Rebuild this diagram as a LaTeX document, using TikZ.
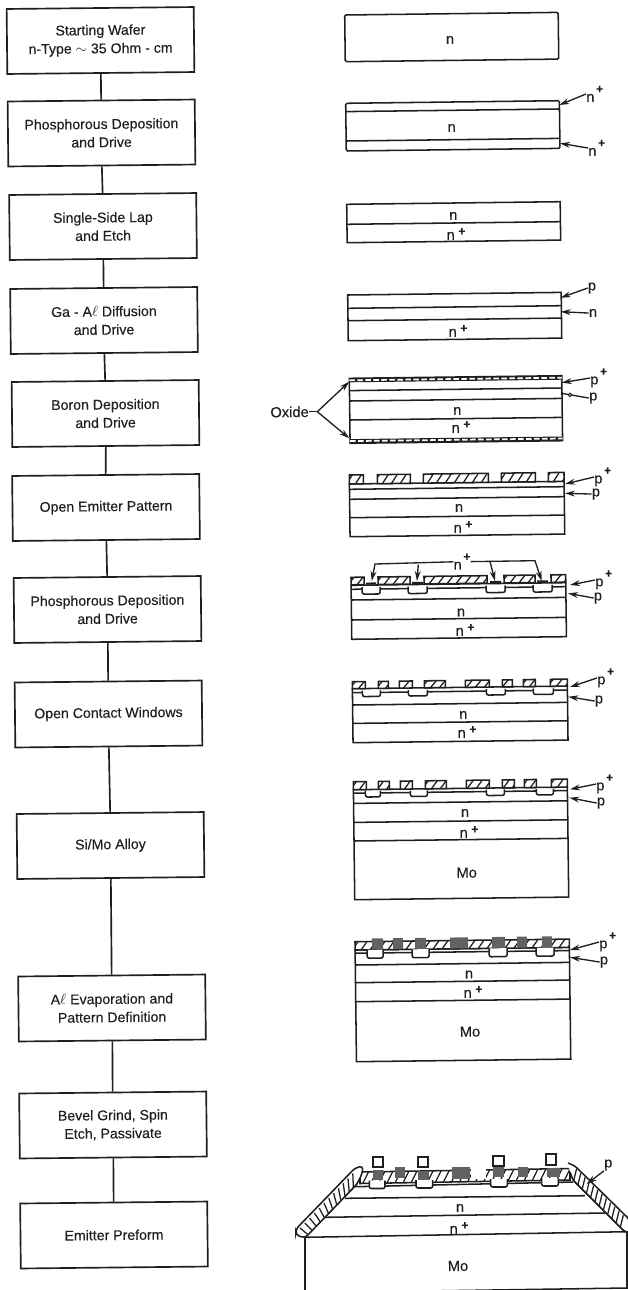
\documentclass[tikz,border=0pt]{standalone}
\usepackage{fontspec}
\setmainfont{Liberation Sans}[FakeBold=0.25]
\usetikzlibrary{arrows.meta}
\definecolor{ink}{gray}{0.12}
\tikzset{
  ln/.style={draw=ink,line width=1.15pt},
  hat/.style={draw=ink,line width=0.95pt},
  stepbox/.style={draw=ink,line width=1.25pt,fill=white,rotate=0.6,minimum width=140.3pt,minimum height=48.75pt,inner sep=0pt,align=center,text=ink,font=\fontsize{10.6}{13.7}\selectfont},
  link/.style={draw=ink,line width=1.25pt},
  lbl/.style={inner sep=0pt,text=ink,rotate=0.6,font=\fontsize{11}{13}\selectfont},
  arr/.style={draw=ink,line width=1pt,-{Stealth[length=7.5pt,width=4.4pt]}},
  wf/.style={shift={#1},rotate=0.7},
}
\newcommand{\upl}[1]{#1\kern.12em\raisebox{.6em}{\bfseries\small +}}
\newcommand{\inl}[1]{#1\kern.25em\raisebox{.3em}{\bfseries\small +}}
\newcommand{\hb}[4]{\draw[ln,fill=white] (#1,#3) rectangle (#2,#4);
  \begin{scope}\clip (#1,#3) rectangle (#2,#4);
  \foreach \h in {-12,-3,...,228} \draw[hat] (\h,#4) -- ({\h+6},#3);
  \end{scope}}
\newcommand{\dashband}[3]{\draw[ink,line width=3pt] (0,#2) -- (#1,#2);
  \draw[white,line width=1.3pt,dash pattern=on 4.2pt off 1.8pt] (0,#2) -- (#1,#2);}
\newcommand{\lay}[2]{\foreach \yy in {#2} \draw[ln] (0,\yy) -- (#1,\yy);}
\newcommand{\emt}[4]{\draw[ln,fill=white,rounded corners=1.5pt] (#1,#3) -- (#1,#4) -- (#2,#4) -- (#2,#3);}
\newcommand{\pad}[4]{\fill[ink!70] (#1,#3) rectangle (#2,#4);}
\begin{document}
\begin{tikzpicture}[x=0.75pt,y=-0.75pt]
\useasboundingbox (0,0) rectangle (628,1290);
% ---------- process flow
\node[stepbox] (b1) at (100.5,40.5) {Starting Wafer\\n-Type $\sim$ 35 Ohm - cm};
\node[stepbox] (b2) at (101.5,133) {Phosphorous Deposition\\and Drive};
\node[stepbox] (b3) at (103,226.5) {Single-Side Lap\\and Etch};
\node[stepbox] (b4) at (104,320.5) {Ga - A$\ell$ Diffusion\\and Drive};
\node[stepbox] (b5) at (105.5,413.5) {Boron Deposition\\and Drive};
\node[stepbox] (b6) at (106,507.5) {Open Emitter Pattern};
\node[stepbox] (b7) at (107.5,609.5) {Phosphorous Deposition\\and Drive};
\node[stepbox] (b8) at (108.5,714) {Open Contact Windows};
\node[stepbox] (b9) at (110.5,845.5) {Si/Mo Alloy};
\node[stepbox] (b10) at (112,1008) {A$\ell$ Evaporation and\\Pattern Definition};
\node[stepbox] (b11) at (113,1125) {Bevel Grind, Spin\\Etch, Passivate};
\node[stepbox] (b12) at (114,1235) {Emitter Preform};
\foreach \a/\b in {b1/b2,b2/b3,b3/b4,b4/b5,b5/b6,b6/b7,b7/b8,b8/b9,b9/b10,b10/b11,b11/b12}
  \draw[link] (\a.south) -- (\b.north);
% ---------- wafer 1
\begin{scope}[wf={(344.7,15)}]
  \draw[ln,rounded corners=1pt] (0,0) rectangle (213.5,46.7);
\end{scope}
% ---------- wafer 2
\begin{scope}[wf={(345.7,103.3)}]
  \draw[ln,rounded corners=1pt] (0,0) rectangle (213.7,47.7);
  \lay{213.7}{8.3,37.7}
\end{scope}
% ---------- wafer 3
\begin{scope}[wf={(346.7,204.3)}]
  \draw[ln] (0,0) rectangle (213.5,38.4);
  \lay{213.5}{20}
\end{scope}
% ---------- wafer 4
\begin{scope}[wf={(347.7,295)}]
  \draw[ln] (0,0) rectangle (213.5,45.7);
  \lay{213.5}{13.3,25.7}
\end{scope}
% ---------- wafer 5
\begin{scope}[wf={(349.3,378.3)}]
  \draw[ln] (0,0) rectangle (212.5,65);
  \lay{212.5}{12.3,22.7,41.7}
  \dashband{212.5}{2}{}
  \dashband{212.5}{62.8}{}
\end{scope}
% ---------- wafer 6
\begin{scope}[wf={(349.3,475)}]
  \draw[ln] (0,9) rectangle (214.7,61.7);
  \lay{214.7}{14.3,24.3,42.7}
  \hb{0}{14}{0}{9} \hb{28}{61}{0}{9} \hb{74}{139}{0}{9} \hb{152}{186}{0}{9} \hb{199}{214.7}{0}{9}
\end{scope}
% ---------- wafer 7
\begin{scope}[wf={(351,577.3)}]
  \draw[ln] (0,8) rectangle (214.7,62);
  \lay{214.7}{12,22.7,42.7}
  \hb{0}{13}{0}{7.5} \hb{27}{59}{0}{7.5} \hb{73}{136}{0}{7.5} \hb{153}{184}{0}{7.5} \hb{200}{214.7}{0}{7.5}
  \foreach \p/\q in {11/29,57/76,135/154,182/201} {\emt{\p}{\q}{10}{17}}
  \foreach \p/\q in {15/25,61/72,139/150,186/197} {\draw[ink,line width=1.6pt] (\p,6.5) -- (\q,6.5);}
\end{scope}
% ---------- wafer 8
\begin{scope}[wf={(352.3,681.7)}]
  \draw[ln] (0,7) rectangle (215,61);
  \lay{215}{11,23.3,41.7}
  \foreach \p/\q in {0/13,26/36,47/60,72/93,113/137,150/160,171/183,198/215} {\hb{\p}{\q}{0}{7}}
  \foreach \p/\q in {10/28,56/75,134/153,181/201} {\emt{\p}{\q}{9}{15}}
\end{scope}
% ---------- wafer 9
\begin{scope}[wf={(353.3,781.7)}]
  \draw[ln] (0,8) rectangle (214,118);
  \lay{214}{11.5,21.7,40.7,59.3}
  \foreach \p/\q in {0/13,25/36,47/59,72/93,113/136,149/161,171/183,198/214} {\hb{\p}{\q}{0}{8}}
  \foreach \p/\q in {12/27,57/74,133/151,183/200} {\emt{\p}{\q}{9.5}{15.5}}
\end{scope}
% ---------- wafer 10
\begin{scope}[wf={(355,941.7)}]
  \draw[ln] (0,8.3) rectangle (214.3,120);
  \lay{214.3}{11.5,23.3,41,60}
  \hb{0}{214.3}{0}{8.3}
  \foreach \p/\q in {12/28,57/74,134/152,181/199} {\emt{\p}{\q}{8.3}{16.7}}
  \foreach \p/\q in {17/28,38/48,60/71,95/113,137/150,162/172,187/197} {\pad{\p}{\q}{-3}{8}}
\end{scope}
% ---------- wafer 11 (bevelled)
\draw[ln] (305,1291) -- (305,1237.3) -- (627,1231.7) -- (627,1288) -- (425,1291);
\draw[ln] (345,1198.3) -- (585,1195.7);
\draw[ln] (325,1217.3) -- (605,1213);
\draw[ln] (305,1237.3) -- (357,1184);
\draw[ln] (573,1180) -- (625,1231.7);
\draw[ln,fill=white] (360,1172) -- (570,1168.5) -- (570,1180) -- (360,1183.5) -- cycle;
\begin{scope}
  \clip (360,1172) -- (570,1168.5) -- (570,1180) -- (360,1183.5) -- cycle;
  \foreach \h in {354,362,...,570} \draw[hat] (\h,1185) -- ({\h+9},1167);
\end{scope}
\draw[ln] (355,1186.7) -- (573,1182);
\foreach \p/\q/\r in {369.3/385/1180.5,416/432.7/1180,490.7/507.3/1179,541.7/558.3/1178} {\emt{\p}{\q}{\r}{\r+8}}
\foreach \p/\q/\r/\s in {373/383/1170/1180,418/429/1170.7/1180,395/405/1167/1178,452/470/1167/1179,493/504/1167/1177,518/528/1167/1177,547/560/1168/1177} {\pad{\p}{\q}{\r}{\s}}
\fill[white] (471,1169) rectangle (486,1179);
\foreach \p/\q/\r/\s in {373/383/1157/1167,418/428/1157/1167,493/504/1156/1166,546/556/1154/1165} {\draw[ln,fill=white] (\p,\r) rectangle (\q,\s);}
% passivation bands
\draw[ln,fill=white,rounded corners=2.5pt] (305,1238) -- (296,1235) -- (296,1229) -- (355,1168) -- (363,1166) -- (362,1174) -- (357,1184) -- cycle;
\foreach \t in {0.05,0.13,...,0.95} \draw[hat] ({297+\t*60},{1231-\t*62}) -- ({305+\t*52},{1237-\t*53});
\draw[ln,fill=white,rounded corners=2pt] (568,1163) -- (575,1166) -- (629,1219) -- (629,1233) -- (624,1231) -- (573,1180) -- (570,1172);
\foreach \t in {0.05,0.13,...,0.95} \draw[hat] ({574+\t*53},{1166+\t*53}) -- ({571+\t*53},{1178+\t*53});
% ---------- labels inside the wafers
\node[lbl] (n1) at (450,40) {n};
\node[lbl] (n2) at (451.7,128) {n};
\node[lbl] (n3) at (453.3,216) {n};
\node[lbl] (n3p) at (456,234) {\inl{n}};
\node[lbl] (n4p) at (458,331) {\inl{n}};
\node[lbl] (n5) at (457.3,411) {n};
\node[lbl] (n5p) at (461,427) {\inl{n}};
\node[lbl] (n6) at (459,508) {n};
\node[lbl] (n6p) at (463,527) {\inl{n}};
\node[lbl] (n7) at (461,612.5) {n};
\node[lbl] (n7p) at (465,630) {\inl{n}};
\node[lbl] (n8) at (463.3,715) {n};
\node[lbl] (n8p) at (467,732) {\inl{n}};
\node[lbl] (n9) at (465,813) {n};
\node[lbl] (n9p) at (469,832) {\inl{n}};
\node[lbl] (m9) at (466.7,872.7) {Mo};
\node[lbl] (n10) at (469,974.5) {n};
\node[lbl] (n10p) at (473,992) {\inl{n}};
\node[lbl] (m10) at (470,1031.7) {Mo};
\node[lbl] (n11) at (460,1208) {n};
\node[lbl] (n11p) at (459,1228) {\inl{n}};
\node[lbl] (m11) at (458,1266) {Mo};
% ---------- side labels and arrows
\foreach \nm/\tx/\ty/\lx/\ly/\txt in {
  a2/559.3/105/592/94/n,
  a2b/560/143.3/594/148/n,
  a5/561.7/382.7/596/378/p,
  a6/565/484/600/477/p,
  a7/570/585/601/580/p,
  a8/570/687/603/678/p,
  a9/570/789.3/602/784/p,
  a10/570/950/605/942/p}
{
  \coordinate (t\nm) at (\tx,\ty);
  \node[lbl,anchor=west] (l\nm) at ({\lx-6},\ly) {\upl{\txt}};
  \draw[arr] (l\nm.west) -- (t\nm);
}
\foreach \nm/\tx/\ty/\lx/\ly/\txt in {
  c4/560.7/297.7/592/288/p,
  c4b/560.7/311.7/593/313/n,
  c6/565/493.3/596/494/p,
  c7/568/593.3/598/598/p,
  c8/568.3/696.7/599/701/p,
  c9/569.3/797.7/601/803/p,
  c10/570/957.3/604/962/p}
{
  \coordinate (t\nm) at (\tx,\ty);
  \node[lbl] (l\nm) at (\lx,\ly) {\txt};
  \draw[arr] (l\nm.west) -- (t\nm);
}
\node[lbl] (lp5) at (593.3,398) {p};
\coordinate (tp5) at (561.7,393.3);
\draw[draw=ink,line width=1pt] (lp5.west) -- (tp5);
\draw[draw=ink,line width=0.8pt,fill=white] (570,394.8) circle (1.8);
\node[lbl] (lp11) at (608.3,1165) {p};
\coordinate (tp11) at (586.7,1184);
\draw[arr] (lp11.south west) -- (tp11);
% oxide callout
\node[lbl,anchor=east] (ox) at (309,411.7) {Oxide};
\coordinate (oxj) at (317.3,411.7);
\coordinate (oxa) at (349.3,381.7);
\coordinate (oxb) at (349.3,438.3);
\draw[draw=ink,line width=1pt] (ox.east) -- (oxj);
\draw[arr] (oxj) -- (oxa);
\draw[arr] (oxj) -- (oxb);
% n+ bracket
\node[lbl] (nb) at (462,561.7) {\upl{n}};
\coordinate (bl) at (375,564); \coordinate (bm) at (418.3,564.5);
\coordinate (br) at (535,560.7); \coordinate (bn) at (490,561.5);
\coordinate (tl) at (371.7,581); \coordinate (tm) at (417,581);
\coordinate (tr) at (541.7,581); \coordinate (tn) at (495,581);
\draw[arr] (nb.west) -- (bl) -- (tl);
\draw[arr] (bm) -- (tm);
\draw[arr] (nb.east) -- (br) -- (tr);
\draw[arr] (bn) -- (tn);
\end{tikzpicture}
\end{document}
